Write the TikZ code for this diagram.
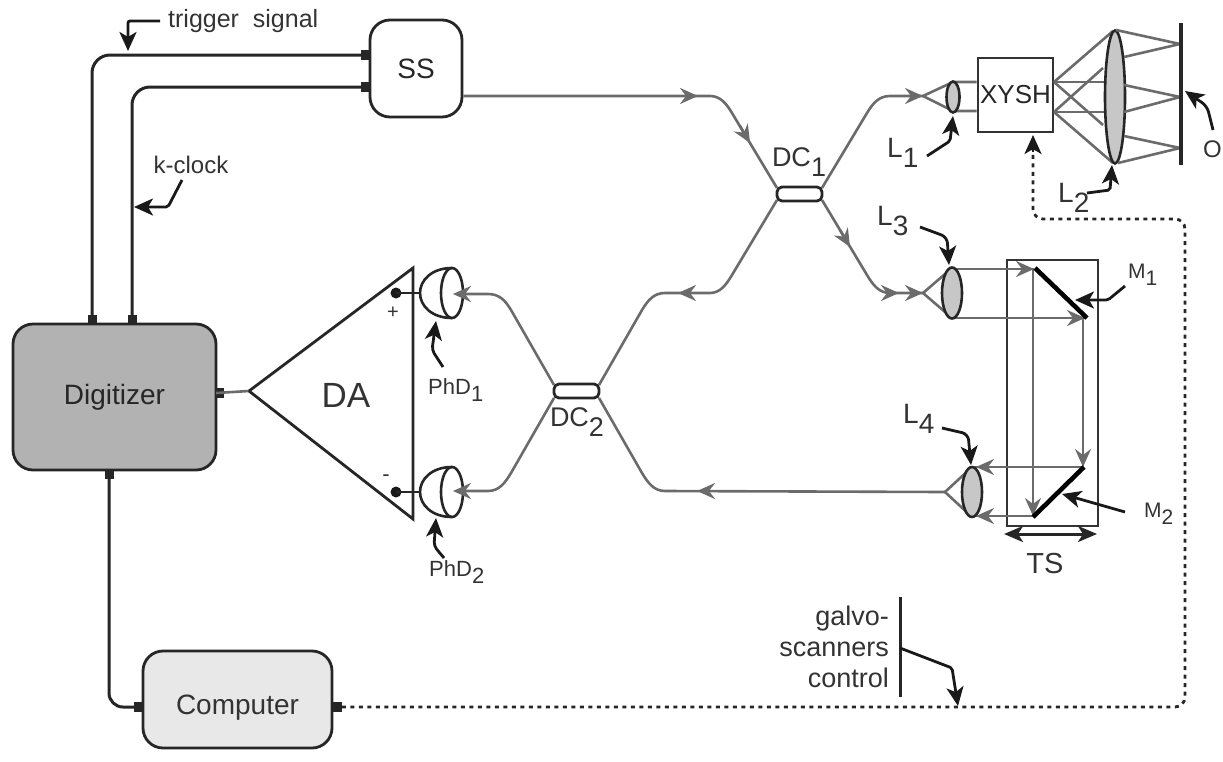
\documentclass[tikz,border=0pt]{standalone}
\usepackage{fontspec}
\setmainfont{Liberation Sans}
\usetikzlibrary{arrows.meta,shapes.geometric,calc}
\newcommand{\fs}[1]{\fontsize{#1}{#1}\selectfont}
\newcommand{\lsub}[3]{\fs{#1}#2\raisebox{-0.35em}{\fs{#1}#3}}
\tikzset{
  x=1pt,y=-1pt,
  blk/.style={draw=black!85,line width=3pt},
  thin blk/.style={draw=black!85,line width=2.8pt},
  fiber/.style={draw=black!58,line width=2.6pt},
  ray/.style={draw=black!58,line width=2.6pt},
  bluntbox/.style={draw=black!85,line width=2.8pt,rounded corners=20pt,inner sep=0pt,text=black!85},
  plainbox/.style={draw=black!80,line width=2.8pt,inner sep=0pt,text=black!85},
  lensshape/.style={ellipse,draw=black!85,line width=2.6pt,fill=black!22,inner sep=0pt},
  label/.style={inner sep=0pt,text=black!80},
  fibertip/.style={draw=black!58,line width=2.6pt,-{Stealth[length=18pt,width=16pt,inset=6pt]}},
  pointer/.style={draw=black!90,line width=2.8pt,rounded corners=2pt,-{Stealth[length=19pt,width=17pt,inset=5pt]}},
  pad/.style={fill=black!85,minimum width=9pt,minimum height=10pt,inner sep=0pt},
  ctrl/.style={draw=black!85,line width=2.8pt,dash pattern=on 4pt off 4.5pt},
  detector/.style={draw=black!85,line width=2.6pt,fill=white},
  mirror/.style={draw=black,line width=4.6pt},
}
\begin{document}
\begin{tikzpicture}
\useasboundingbox (0,0) rectangle (1223,761);
% boxes
\node[bluntbox,fill=black!30,minimum width=203pt,minimum height=146pt,font=\fs{28}] (dig) at (114.5,397) {Digitizer};
\node[bluntbox,fill=white,minimum width=92pt,minimum height=97pt,font=\fs{28}] (ss) at (416,68.5) {SS};
\node[bluntbox,fill=black!9,minimum width=189pt,minimum height=97pt] (comp) at (237.5,699.5) {};
\node[label,font=\fs{28}] (comptext) at (237.5,708) {Computer};
\node[plainbox,minimum width=75pt,minimum height=74pt,font=\fs{26}] (xysh) at (1015.5,95) {XYSH};
\node[plainbox,minimum width=91pt,minimum height=266pt] (ts) at (1052.5,393) {};
% named points
\coordinate (tr1) at (ss.west |- 0,55);
\coordinate (kc1) at (ss.west |- 0,87);
\coordinate (tr2) at (92,324);
\coordinate (kc2) at (132,324);
% electrical
\draw[blk,rounded corners=18pt] (tr1) -- (92,55) -- (tr2);
\draw[blk,rounded corners=18pt] (kc1) -- (132,87) -- (kc2);
\draw[blk,rounded corners=14pt] (109,470) -- (109,707) -- (143,707);
\node[pad] at (365,55) {};
\node[pad] at (365,87) {};
\node[pad] at (92,320) {};
\node[pad] at (132,320) {};
\node[pad] at (109,474) {};
\node[pad] at (138,707) {};
\node[pad] at (337,707) {};
\node[pad] at (219,393) {};
% dotted control
\draw[ctrl,rounded corners=10pt] (comp.east |- 0,707) -- (1185,707) -- (1185,219) -- (1033,219) -- (1033,150);
\draw[pointer] (1033,152) -- (1033,135);
% DA
\node[inner sep=0pt] (daleft) at (249,391) {};
\draw[thin blk,line join=miter] (249,391) -- (413,268) -- (413,519) -- cycle;
\node[label,font=\fs{35}] (da) at (346,395) {DA};
\node[label,font=\fs{20}] (plus) at (393,313) {+};
\node[label,font=\fs{22}] (minus) at (386,478) {-};
\draw[fiber] (216,393) -- (daleft);
% photodiodes
\foreach \n/\yy in {a/293,b/492}{
  \fill[black!90] (396,\yy) circle (5.5pt);
  \draw[thin blk] (396,\yy) -- (421,\yy);
  \draw[detector] (452,\yy-25) .. controls (432,\yy-25) and (420,\yy-13) .. (420,\yy) .. controls (420,\yy+13) and (432,\yy+25) .. (452,\yy+25);
  \draw[detector,fill=none] (452,\yy) ellipse (11pt and 25pt);
}
% couplers
\node[draw=black!85,line width=2.8pt,rounded corners=5pt,fill=white,minimum width=45pt,minimum height=14pt,inner sep=0pt] (dc1) at (799.5,194) {};
\node[draw=black!85,line width=2.8pt,rounded corners=5pt,fill=white,minimum width=45pt,minimum height=14pt,inner sep=0pt] (dc2) at (576.5,391) {};
\node[label] at (799,162) {\lsub{27}{DC}{1}};
\node[label] at (577,422) {\lsub{27}{DC}{2}};
% lens apexes
\coordinate (a1) at (923,96);
\coordinate (a3) at (923,293);
\coordinate (a4) at (945,492);
% fibers
\draw[fiber] (ss.east |- 0,96) -- (710,96) .. controls (720,96) and (726,103) .. (732,113) -- (777,188);
\draw[fiber] (822,188) -- (867,113) .. controls (873,103) and (879,96) .. (890,96) -- (a1);
\draw[fiber] (822,200) -- (867,275) .. controls (873,285) and (879,293) .. (890,293) -- (a3);
\draw[fiber] (777,200) -- (732,275) .. controls (726,285) and (720,293) .. (710,293) -- (665,293) .. controls (654,293) and (648,300) .. (642,310) -- (599,385);
\draw[fiber] (554,385) -- (511,310) .. controls (505,300) and (499,294) .. (488,294) -- (458,294);
\draw[fiber] (554,398) -- (511,473) .. controls (505,483) and (499,491) .. (488,491) -- (458,491);
\draw[fiber] (599,398) -- (642,473) .. controls (648,483) and (654,491) .. (665,491) -- (a4);
% fiber arrows
\draw[fibertip] (670,96) -- (698,96);
\draw[fibertip] (740,126) -- (750,143);
\draw[fibertip] (895,96) -- (923,96);
\draw[fibertip] (840,230) -- (850,247);
\draw[fibertip] (888,293) -- (899,293);
\draw[fibertip] (905,293) -- (923,293);
\draw[fibertip] (705,293) -- (678,293);
\draw[fibertip] (485,294) -- (453,294);
\draw[fibertip] (485,491) -- (453,491);
\draw[fibertip] (730,491) -- (697,491);
% L1
\draw[ray] (a1) -- (953,82) -- (xysh.west |- 0,82);
\draw[ray] (a1) -- (953,111) -- (xysh.west |- 0,111);
\node[lensshape,minimum width=13pt,minimum height=31pt] (l1) at (953,97) {};
% L2 rays
\draw[ray] (1054,82) -- (1113,31);
\draw[ray] (1054,112) -- (1113,163);
\draw[ray] (1054,82) -- (1104,82);
\draw[ray] (1054,112) -- (1104,112);
\draw[ray] (1054,82) -- (1103,125);
\draw[ray] (1054,112) -- (1103,68);
\node[lensshape,minimum width=20pt,minimum height=133pt] (l2) at (1115,97) {};
\draw[ray] (1116,30) -- (1180,44);
\draw[ray] (1124,57) -- (1180,44);
\draw[ray] (1124,85) -- (1180,97);
\draw[ray] (1124,112) -- (1180,97);
\draw[ray] (1124,136) -- (1180,148);
\draw[ray] (1118,163) -- (1180,148);
\draw[line width=4pt,draw=black!85] (1181,23) -- (1181,165);
% interferometer arm
\draw[ray] (a3) -- (952,268);
\draw[ray] (a3) -- (952,318);
\draw[ray] (952,269) -- (1033,269) -- (1033,514);
\draw[ray] (952,318) -- (1083,318) -- (1083,466);
\draw[ray] (1083,467) -- (975,467);
\draw[ray] (1033,516) -- (975,516);
\draw[ray] (a4) -- (972,467);
\draw[ray] (a4) -- (972,517);
\node[lensshape,minimum width=20pt,minimum height=51pt] (l3) at (952,293) {};
\node[lensshape,minimum width=20pt,minimum height=50pt] (l4) at (972,492) {};
\draw[fibertip] (1005,269) -- (1034,269);
\draw[fibertip] (1055,318) -- (1085,318);
\draw[fibertip] (1033,490) -- (1033,516);
\draw[fibertip] (1083,440) -- (1083,467);
\draw[fibertip] (1005,467) -- (976,467);
\draw[fibertip] (1005,516) -- (976,516);
\draw[mirror] (1035,268) -- (1087,318);
\draw[mirror] (1033,517) -- (1084,467);
\draw[blk,{Stealth[length=19pt,width=16pt,inset=5pt]}-{Stealth[length=19pt,width=16pt,inset=5pt]}] (1004,534) -- (1097,534);
% labels
\node[label,font=\fs{25},anchor=west] (trig) at (168,21) {trigger\ \ signal};
\node[label,font=\fs{24}] (kclk) at (191,165) {k-clock};
\draw[pointer] (160,21) -- (128,21) -- (128,51);
\draw[pointer] (182,180) -- (168,207) -- (134,207);
\node[label,anchor=west] (lab1) at (887,153) {\lsub{28}{L}{1}};
\draw[pointer] (927,156) -- (950,141) -- (953,116);
\node[label,anchor=west] (lab2) at (1058,198) {\lsub{28}{L}{2}};
\draw[pointer] (1087,193) -- (1110,190) -- (1112,165);
\node[label,anchor=west] (lab3) at (877,221) {\lsub{28}{L}{3}};
\draw[pointer,rounded corners=6pt] (920,227) -- (947,237) -- (949,265);
\node[label,anchor=west] (lab4) at (903,419) {\lsub{28}{L}{4}};
\draw[pointer,rounded corners=6pt] (942,428) -- (968,434) -- (971,465);
\node[label,anchor=west] (mm1) at (1128,275) {\lsub{21}{M}{1}};
\draw[pointer] (1125,286) -- (1108,300) -- (1075,300);
\node[label,anchor=west] (mm2) at (1144,514) {\lsub{21}{M}{2}};
\draw[pointer] (1125,512) -- (1062,494);
\node[label,font=\fs{29}] (tsl) at (1045,564) {TS};
\node[label,font=\fs{24},anchor=west] (ol) at (1203,149) {O};
\draw[pointer,rounded corners=6pt] (1213,130) -- (1207,106) -- (1185,91);
\node[label,anchor=west] (ph1) at (428,390) {\lsub{22}{PhD}{1}};
\draw[pointer,rounded corners=4pt] (443,367) -- (432,350) -- (436,321);
\node[label,anchor=west] (ph2) at (429,572) {\lsub{22}{PhD}{2}};
\draw[pointer,rounded corners=4pt] (444,558) -- (434,546) -- (436,518);
\node[label,align=right,anchor=east,font=\fontsize{27}{31}\selectfont] (gal) at (889,647) {galvo-\\scanners\\control};
\draw[line width=3pt,draw=black!85] (900,597) -- (900,697);
\draw[pointer] (900,648) -- (952,668) -- (958,706);
\end{tikzpicture}
\end{document}
